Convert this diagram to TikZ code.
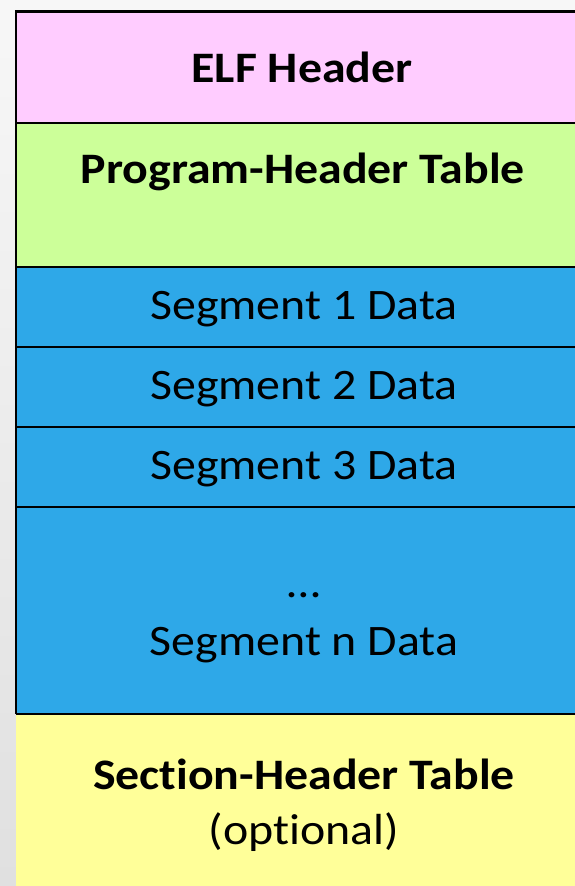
\documentclass[tikz,border=0pt]{standalone}
\usepackage{graphicx}
\usepackage{fontspec}
\setmainfont{Carlito}[Ligatures=NoCommon]
\definecolor{elfpink}{HTML}{FFCCFF}
\definecolor{phtgreen}{HTML}{CCFF99}
\definecolor{segblue}{HTML}{2EA8E8}
\definecolor{shtyellow}{HTML}{FFFF99}
\definecolor{bgtop}{HTML}{F7F7F7}
\definecolor{bgbot}{HTML}{E0E0E0}
\newcommand\widetxt[1]{\scalebox{1.1}[1]{#1}}
\tikzset{
  lbl/.style={anchor=base, inner sep=0pt, font=\fontsize{43.5}{52}\selectfont, text=black},
  blbl/.style={lbl, font=\fontsize{43.5}{52}\selectfont\bfseries},
  sep/.style={line width=2.4pt, draw=black},
}
\begin{document}
\begin{tikzpicture}[x=1pt,y=-1pt]
\useasboundingbox (0,0) rectangle (575,886);
\clip (0,0) rectangle (575,886);
\shade[top color=bgtop, bottom color=bgbot] (0,0) rectangle (575,886);
% boxes
\fill[elfpink] (16,11) rectangle (600,123);
\fill[phtgreen] (16,123) rectangle (600,267);
\fill[segblue] (16,267) rectangle (600,714);
\fill[shtyellow] (16,714) rectangle (600,890);
% borders
\draw[sep] (600,11.3) -- (16,11.3) -- (16,714);
\draw[sep] (16,123) -- (600,123);
\draw[sep] (16,267) -- (600,267);
\draw[sep] (16,347) -- (600,347);
\draw[sep] (16,427) -- (600,427);
\draw[sep] (16,507) -- (600,507);
\draw[sep] (16,714) -- (600,714);
% labels
\node[blbl] (elf) at (302,82) {\widetxt{ELF Header}};
\node[blbl] (pht) at (303,183) {\widetxt{Program-Header Table}};
\node[lbl] (s1) at (304,319) {\widetxt{Segment 1 Data}};
\node[lbl] (s2) at (304,399) {\widetxt{Segment 2 Data}};
\node[lbl] (s3) at (304,479) {\widetxt{Segment 3 Data}};
\node[lbl] (dots) at (304,597) {\widetxt{…}};
\node[lbl] (sn) at (304,655) {\widetxt{Segment n Data}};
\node[blbl] (sht) at (304,789) {\widetxt{Section-Header Table}};
\node[lbl] (opt) at (304,844) {\widetxt{(optional)}};
\end{tikzpicture}
\end{document}
